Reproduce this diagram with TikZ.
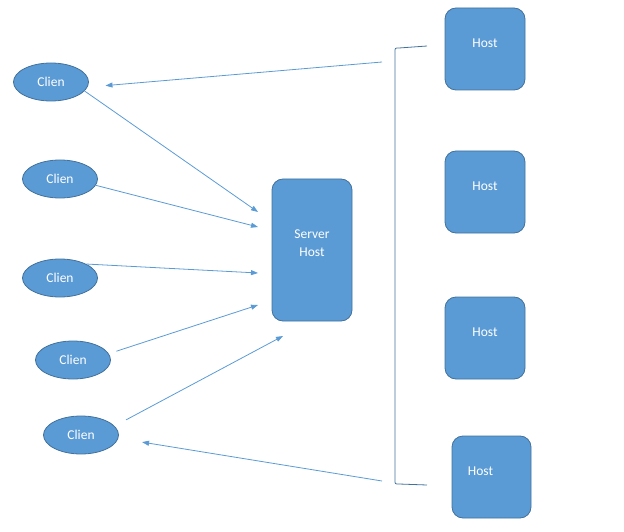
\documentclass[tikz,border=0pt]{standalone}
\usepackage{fontspec}
\setmainfont{Carlito}
\usepackage{xcolor}
\usepackage{tikz}
\usetikzlibrary{shapes.geometric,arrows.meta}
\definecolor{boxc}{HTML}{5B9BD5}
\definecolor{edgec}{HTML}{41719C}
\definecolor{arrc}{HTML}{5B9BD5}

\begin{document}
\begin{tikzpicture}[x=1pt,y=-1pt,
  client/.style={ellipse,draw=edgec,fill=boxc,line width=0.8pt,minimum width=75pt,minimum height=38pt,
    inner sep=0pt,text=white,font=\fontsize{13.5}{18}\selectfont},
  hostbox/.style={draw=edgec,fill=boxc,line width=0.8pt,rounded corners=11pt,minimum width=80pt,minimum height=82pt},
  boxtxt/.style={text=white,font=\fontsize{13.5}{18}\selectfont,inner sep=0pt,align=center},
  link/.style={arrc,line width=0.8pt,-{Triangle[length=7pt,width=5pt]}}]
  \useasboundingbox (0,0) rectangle (624,532);

  % clients on the left
  \node[client] (c1) at (51,82) {Clien};
  \node[client] (c2) at (60,179) {Clien};
  \node[client] (c3) at (60,278) {Clien};
  \node[client] (c4) at (73,360) {Clien};
  \node[client] (c5) at (81,435) {Clien};

  % server and hosts
  \node[hostbox,minimum height=142pt,label={[boxtxt,below=51pt]north:{Server\\Host}}] (srv) at (312,250) {};
  \node[hostbox,label={[boxtxt,below=31pt]north:Host}] (h1) at (485,49) {};
  \node[hostbox,label={[boxtxt,below=31pt]north:Host}] (h2) at (485,192) {};
  \node[hostbox,label={[boxtxt,below=31pt]north:Host}] (h3) at (485,338) {};
  \node[hostbox,minimum width=79pt,label={[boxtxt,below=31pt,xshift=-11pt]north:Host}] (h4) at (491.5,477) {};

  % bracket grouping the hosts
  \draw[edgec,line width=0.8pt] (427,46) -- (399,48) .. controls (395,48) .. (395,52) -- (395,480)
    .. controls (395,484) .. (399,484) -- (427,485);
  \coordinate (b1) at (382,62);
  \coordinate (b2) at (382,481);

  % where the arrows meet the server
  \coordinate (s1) at (258,212);
  \coordinate (s2) at (258,227);
  \coordinate (s3) at (258,273);
  \coordinate (s4) at (258,305);
  \coordinate (s5) at (283,336);

  \draw[link] (c1.-15) -- (s1);
  \draw[link] (c2.-10) -- (s2);
  \draw[link] (c3.28) -- (s3);
  \draw[link,shorten <=8pt] (c4.10) -- (s4);
  \draw[link,shorten <=13pt] (c5.15) -- (s5);
  \draw[link,shorten >=18pt] (b1) -- (c1.-8);
  \draw[link,shorten >=24pt] (b2) -- (c5.-5);
\end{tikzpicture}
\end{document}
